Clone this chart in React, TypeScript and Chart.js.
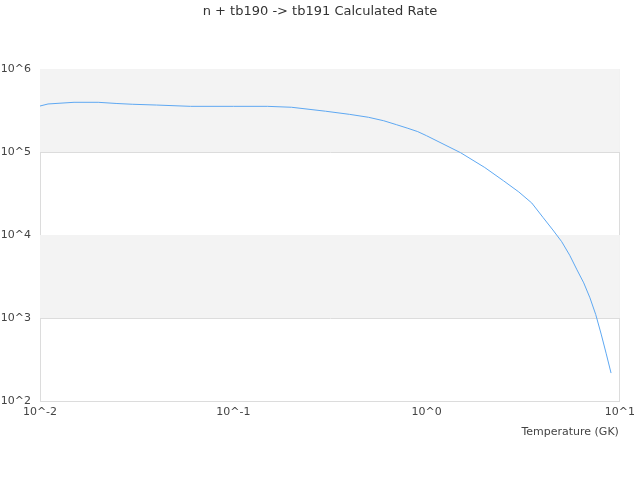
import { useEffect, useRef } from "react"
import { Chart, registerables } from "chart.js"

Chart.register(...registerables)

// Temperature (GK) and calculated rate
const temperatures = [
  0.01, 0.011, 0.015, 0.02, 0.025, 0.03, 0.04, 0.06, 0.1, 0.15, 0.2, 0.3, 0.4, 0.5, 0.6, 0.7, 0.8,
  0.9, 1, 1.5, 2, 2.5, 3, 3.5, 4, 4.5, 5, 5.5, 6, 6.5, 7, 7.5, 8, 8.5, 9,
]
const rates = [
  3.58e5, 3.79e5, 3.97e5, 3.97e5, 3.84e5, 3.76e5, 3.68e5, 3.55e5, 3.55e5, 3.55e5, 3.46e5, 3.1e5,
  2.84e5, 2.62e5, 2.38e5, 2.13e5, 1.93e5, 1.76e5, 1.57e5, 9.8e4, 6.5e4, 4.5e4, 3.3e4, 2.43e4,
  1.63e4, 1.15e4, 8.3e3, 5.7e3, 3.8e3, 2.65e3, 1.75e3, 1.1e3, 640, 370, 217,
]

const xTicks = [0.01, 0.1, 1, 10]
const yTicks = [1e2, 1e3, 1e4, 1e5, 1e6]
// decades that get the grey band
const bands: [number, number][] = [
  [1e5, 1e6],
  [1e3, 1e4],
]

const titleText = "n + tb190 -> tb191 Calculated Rate"
const xTitle = "Temperature (GK)"
const FONT = "'DejaVu Sans', sans-serif"

const powerLabel = (v: number) => "10^" + Math.round(Math.log10(v))

const bandPlugin = {
  id: "bands",
  beforeDatasetsDraw(chart: Chart) {
    const { ctx, chartArea, scales } = chart
    const y = scales.y
    ctx.save()
    ctx.fillStyle = "#f3f3f3"
    bands.forEach(([lo, hi]) => {
      const top = y.getPixelForValue(hi)
      const bottom = y.getPixelForValue(lo)
      ctx.fillRect(chartArea.left, top, chartArea.right - chartArea.left, bottom - top)
    })
    ctx.restore()
  },
}

const textPlugin = {
  id: "texts",
  afterDraw(chart: Chart) {
    const { ctx, chartArea } = chart
    ctx.save()
    ctx.fillStyle = "#333"
    ctx.font = "13px " + FONT
    ctx.textAlign = "center"
    ctx.textBaseline = "middle"
    ctx.fillText(titleText, chart.width / 2, 12)
    ctx.fillStyle = "#444"
    ctx.font = "11px " + FONT
    ctx.textAlign = "right"
    ctx.fillText(xTitle, chartArea.right - 1, chartArea.bottom + 31)
    ctx.restore()
  },
}

export default function RateChart() {
  const chartRef = useRef<HTMLCanvasElement>(null)
  const chartInstance = useRef<Chart | null>(null)

  useEffect(() => {
    if (!chartRef.current) return
    if (chartInstance.current) chartInstance.current.destroy()
    const ctx = chartRef.current.getContext("2d")
    if (!ctx) return

    chartInstance.current = new Chart(ctx, {
      type: "line",
      data: {
        datasets: [
          {
            label: "rate",
            data: temperatures.map((t, i) => ({ x: t, y: rates[i] })),
            borderColor: "#5ea8f2",
            borderWidth: 1,
            pointRadius: 0,
            fill: false,
            tension: 0,
          },
        ],
      },
      options: {
        animation: false,
        responsive: false,
        layout: { padding: { top: 69, right: 20, bottom: 0, left: 0 } },
        plugins: {
          legend: { display: false },
          title: { display: false },
          tooltip: { enabled: false },
        },
        scales: {
          x: {
            type: "logarithmic",
            min: 0.01,
            max: 10,
            afterBuildTicks: (scale) => {
              scale.ticks = xTicks.map((v) => ({ value: v }))
            },
            afterFit: (scale) => {
              scale.height = 79
            },
            ticks: {
              autoSkip: false,
              maxRotation: 0,
              padding: 5,
              color: "#444",
              font: { family: FONT, size: 11 },
              callback: (v) => powerLabel(Number(v)),
            },
            grid: {
              drawTicks: false,
              color: (c) => (c.tick && c.tick.value === 10 ? "#dcdcdc" : "rgba(0,0,0,0)"),
            },
            border: { color: "#dcdcdc" },
          },
          y: {
            type: "logarithmic",
            min: 1e2,
            max: 1e6,
            afterBuildTicks: (scale) => {
              scale.ticks = yTicks.map((v) => ({ value: v }))
            },
            afterFit: (scale) => {
              scale.width = 40
            },
            ticks: {
              autoSkip: false,
              padding: 9,
              color: "#444",
              font: { family: FONT, size: 11 },
              callback: (v) => powerLabel(Number(v)),
            },
            grid: { drawTicks: false, color: "#dcdcdc" },
            border: { color: "#dcdcdc" },
          },
        },
      },
      plugins: [bandPlugin, textPlugin],
    })

    return () => {
      if (chartInstance.current) {
        chartInstance.current.destroy()
        chartInstance.current = null
      }
    }
  }, [])

  return (
    <div style={{ position: "absolute", left: 0, top: 0, width: 640, height: 480 }}>
      <canvas ref={chartRef} width={640} height={480} />
    </div>
  )
}
